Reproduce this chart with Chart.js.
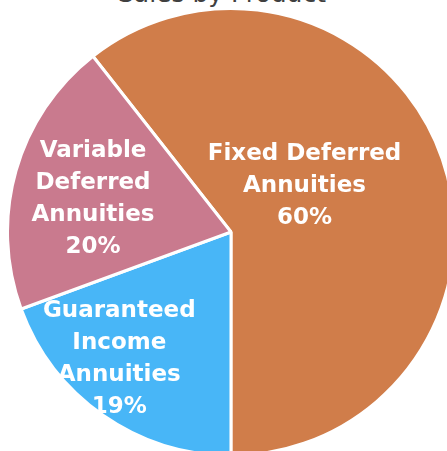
<!DOCTYPE html>
<html>
<head>
<meta charset="utf-8">
<script src="https://cdn.jsdelivr.net/npm/chart.js@4/dist/chart.umd.min.js"></script>
<style>
    html, body { margin: 0; padding: 0; background: #fff; overflow: hidden; }
    body { width: 447px; height: 451px; position: relative; }
    #title {
        position: absolute; left: 0; width: 444px; top: -21px;
        text-align: center; font: 25px/30px "DejaVu Sans", sans-serif; color: #404040;
        white-space: nowrap;
    }
    #wrap { position: absolute; left: 6px; top: 7px; width: 450px; height: 450px; }
</style>
</head>
<body>
<div id="title">Sales by Product</div>
<div id="wrap"><canvas id="pieChart" width="450" height="450"></canvas></div>
<script>
// Sales by product share
const categories = [
    ['Fixed Deferred', 'Annuities'],
    ['Guaranteed', 'Income', 'Annuities'],
    ['Variable', 'Deferred', 'Annuities']
];
const shares = [60.6, 19.4, 20.0];
const shareLabels = ['60%', '19%', '20%'];
const colors = ['#D07D4A', '#48B6F7', '#C97A8E'];

// where each label sits inside its slice: fraction of radius, angle shift (deg)
const labelPlace = [
    { r: 0.394, shift: -14.3 },
    { r: 0.748, shift: 7.0 },
    { r: 0.637, shift: -1.6 }
];

const sliceLabels = {
    id: 'sliceLabels',
    afterDatasetsDraw(chart) {
        const ctx = chart.ctx;
        const arcs = chart.getDatasetMeta(0).data;
        const lineH = 32;
        ctx.save();
        ctx.fillStyle = '#fff';
        ctx.font = 'bold 23px "DejaVu Sans", sans-serif';
        ctx.textAlign = 'center';
        ctx.textBaseline = 'alphabetic';
        arcs.forEach((arc, i) => {
            const p = arc.getProps(['x', 'y', 'startAngle', 'endAngle', 'outerRadius'], true);
            const mid = (p.startAngle + p.endAngle) / 2 + labelPlace[i].shift * Math.PI / 180;
            const cx = p.x + Math.cos(mid) * p.outerRadius * labelPlace[i].r;
            const cy = p.y + Math.sin(mid) * p.outerRadius * labelPlace[i].r;
            const lines = categories[i].concat([shareLabels[i]]);
            const n = lines.length;
            lines.forEach((t, k) => {
                ctx.fillText(t, cx, cy + (k - (n - 1) / 2) * lineH + 8.4);
            });
        });
        ctx.restore();
    }
};

new Chart(document.getElementById('pieChart').getContext('2d'), {
    type: 'pie',
    data: {
        labels: categories.map(c => c.join(' ')),
        datasets: [{
            data: shares,
            backgroundColor: colors,
            borderColor: '#ffffff',
            borderWidth: 3
        }]
    },
    options: {
        responsive: false,
        animation: false,
        devicePixelRatio: 1,
        rotation: -38.15,
        layout: { padding: 0 },
        plugins: {
            legend: { display: false },
            tooltip: { enabled: false },
            title: { display: false }
        }
    },
    plugins: [sliceLabels]
});
</script>
</body>
</html>
